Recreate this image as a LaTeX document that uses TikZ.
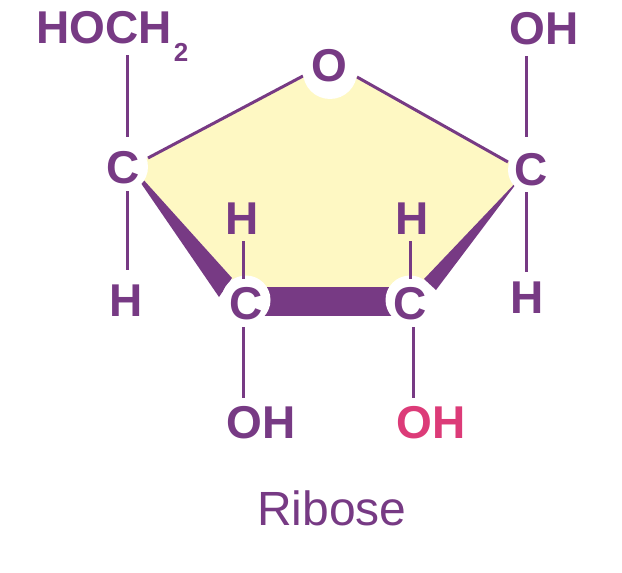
\documentclass[tikz,border=0pt]{standalone}
\usepackage{fontspec}
\setmainfont{Liberation Sans}
\definecolor{rpurple}{HTML}{773A84}
\definecolor{rpink}{HTML}{DC3B78}
\definecolor{ryellow}{HTML}{FEF8C3}
\tikzset{
  atom/.style={anchor=base,inner sep=0pt,outer sep=0pt,text=rpurple,font=\fontsize{46}{46}\bfseries\selectfont},
  atompink/.style={atom,text=rpink},
  subscr/.style={atom,font=\fontsize{26}{26}\bfseries\selectfont},
  caption/.style={anchor=base,inner sep=0pt,text=rpurple,font=\fontsize{48}{48}\selectfont},
  bond/.style={draw=rpurple,line width=3pt},
  wedge/.style={fill=rpurple,draw=none},
  halo/.style={fill=white,draw=none}
}
\begin{document}
\begin{tikzpicture}[x=1pt,y=-1pt]
\useasboundingbox (0,0) rectangle (622,573);
% ring face
\fill[ryellow] (330,62) -- (531,175) -- (522,176) -- (424,279) -- (424,290) -- (232,290) -- (232,278) -- (123,157) -- (123,171) -- cycle;
% thick front bonds
\fill[wedge] (123,157) -- (232,278) -- (219,297) -- cycle;
\fill[wedge] (522,176) -- (424,279) -- (436,290) -- cycle;
\fill[wedge] (246,287) rectangle (410,316);
% ring bonds (thin)
\coordinate (ringL) at (148,158);
\coordinate (ringOL) at (303,76);
\coordinate (ringOR) at (357,77);
\coordinate (ringR) at (508,162);
\draw[bond] (ringL) -- (ringOL);
\draw[bond] (ringOR) -- (ringR);
% white halos
\fill[halo] (123,167) circle (25);
\fill[halo] (330,72) circle (27);
\fill[halo] (531,170) circle (23);
\fill[halo] (246,300) circle (24.5);
\fill[halo] (410,300) circle (24.5);
% atoms
\node[atom] (hoch) at (104,43) {HOCH};
\node[subscr] (two) at (181,61) {2};
\node[atom] (oh1) at (544,44) {OH};
\node[atom] (o) at (329,81) {O};
\node[atom] (c1) at (123,183) {C};
\node[atom] (c4) at (531,185) {C};
\node[atom] (c2) at (246,319) {C};
\node[atom] (c3) at (410,319) {C};
\node[atom] (h1) at (126,316) {H};
\node[atom] (h2) at (242,234) {H};
\node[atom] (h3) at (412,234) {H};
\node[atom] (h4) at (527,313) {H};
\node[atom] (oh2) at (261,438) {OH};
\node[atompink] (oh3) at (431,438) {OH};
\node[caption] (cap) at (332,525) {Ribose};
% vertical bonds
\draw[bond] ([shift={(23,12)}]hoch.base) -- ([shift={(4,-46)}]c1.base);
\draw[bond] ([shift={(4,8)}]c1.base) -- ([shift={(1,-46)}]h1.base);
\draw[bond] ([shift={(-18,12)}]oh1.base) -- ([shift={(-5,-48)}]c4.base);
\draw[bond] ([shift={(-5,7)}]c4.base) -- ([shift={(-1,-41)}]h4.base);
\draw[bond] ([shift={(1,7)}]h2.base) -- ([shift={(-3,-40)}]c2.base);
\draw[bond] ([shift={(-2,7)}]h3.base) -- ([shift={(0,-40)}]c3.base);
\draw[bond] ([shift={(-3,8)}]c2.base) -- ([shift={(-18,-40)}]oh2.base);
\draw[bond] ([shift={(3,8)}]c3.base) -- ([shift={(-18,-40)}]oh3.base);
\end{tikzpicture}
\end{document}
